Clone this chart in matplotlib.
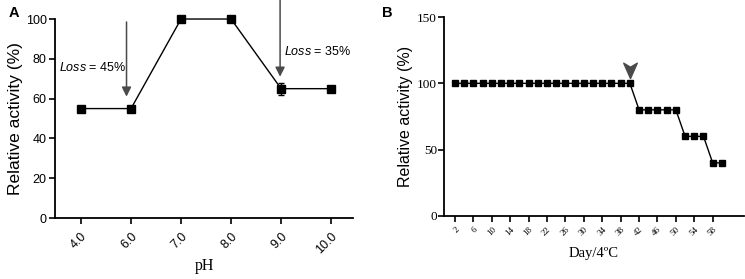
import matplotlib
matplotlib.use("Agg")
import matplotlib.pyplot as plt
from matplotlib.path import Path

plt.rcParams['font.family'] = ['Liberation Sans', 'DejaVu Sans']
plt.rcParams['mathtext.fontset'] = 'custom'
plt.rcParams['mathtext.it'] = 'Liberation Sans:italic'
plt.rcParams['mathtext.rm'] = 'Liberation Sans'

# panel A: pH stability
ph_labels = ['4.0', '6.0', '7.0', '8.0', '9.0', '10.0']
ph_activity = [55, 55, 100, 100, 65, 65]
ph_err = [0, 0.8, 0, 0.8, 3, 0]

# panel B: storage at 4 C
days = [2, 4, 6, 8, 10, 12, 14, 16, 18, 20, 22, 24, 26, 28, 30, 32, 34, 36, 38, 40,
        42, 44, 46, 48, 50, 52, 54, 56, 58, 60]
day_activity = [100] * 20 + [80] * 5 + [60] * 3 + [40] * 2
day_ticks = list(range(2, 59, 4))

serif = ['Liberation Serif', 'DejaVu Serif']
arrow_col = '#4a4a4a'

fig = plt.figure(figsize=(7.45, 2.79), dpi=100)

# ---- panel A
ax1 = fig.add_axes([0.0738, 0.2186, 0.4002, 0.7132])
x1 = list(range(len(ph_labels)))
ax1.errorbar(x1, ph_activity, yerr=ph_err, fmt='-s', color='black', lw=1.0,
             ms=5.5, capsize=2.5, elinewidth=1.0, clip_on=False, zorder=3)
ax1.set_xlim(-0.52, 5.44)
ax1.set_ylim(0, 100)
ax1.set_yticks([0, 20, 40, 60, 80, 100])
ax1.set_xticks(x1)
ax1.set_xticklabels(ph_labels, rotation=45, ha='right', rotation_mode='anchor')
ax1.tick_params(labelsize=9, width=1.2, length=4, pad=2)
ax1.tick_params(axis='x', pad=5)
for s in ['top', 'right']:
    ax1.spines[s].set_visible(False)
for s in ['left', 'bottom']:
    ax1.spines[s].set_linewidth(1.3)
ax1.set_ylabel('Relative activity (%)', fontsize=12.5, labelpad=2)
ax1.set_xlabel('pH', fontsize=11.5, family=serif, labelpad=1)

ax1.annotate('', xy=(0.91, 61), xytext=(0.91, 98.5),
             arrowprops=dict(arrowstyle='-|>', color=arrow_col, lw=1.1,
                             mutation_scale=14, shrinkA=0, shrinkB=0))
ax1.text(-0.43, 75.5, r'$\it{Loss}$ = 45%', fontsize=9, va='center', ha='left')
ax1.annotate('', xy=(3.98, 71), xytext=(3.98, 110),
             arrowprops=dict(arrowstyle='-|>', color=arrow_col, lw=1.1,
                             mutation_scale=14, shrinkA=0, shrinkB=0),
             annotation_clip=False)
ax1.text(4.06, 83.5, r'$\it{Loss}$ = 35%', fontsize=9, va='center', ha='left')

fig.text(0.012, 0.955, 'A', fontsize=10.5, weight='bold', va='center')

# ---- panel B
ax2 = fig.add_axes([0.596, 0.226, 0.402, 0.713])
ax2.plot(days, day_activity, '-s', color='black', lw=1.0, ms=5, clip_on=False, zorder=3)
ax2.set_xlim(-0.4, 64.7)
ax2.set_ylim(0, 150)
ax2.set_yticks([0, 50, 100, 150])
ax2.set_xticks(day_ticks)
ax2.set_xticklabels([str(d) for d in day_ticks], rotation=45, ha='right',
                    rotation_mode='anchor', family=serif, fontsize=6.5)
for lab in ax2.get_yticklabels():
    lab.set_family(serif)
ax2.tick_params(axis='y', labelsize=9.5, width=1.2, length=4, pad=1)
ax2.tick_params(axis='x', width=1.2, length=4, pad=3)
for s in ['top', 'right']:
    ax2.spines[s].set_visible(False)
for s in ['left', 'bottom']:
    ax2.spines[s].set_linewidth(1.3)
ax2.set_ylabel('Relative activity (%)', fontsize=11.5, labelpad=3)
ax2.set_xlabel('Day/4ºC', fontsize=10.5, family=serif, labelpad=7)

# arrowhead marker over day 40
head = Path([(0, -1), (-0.75, 0.7), (0, 0.25), (0.75, 0.7), (0, -1)],
            [Path.MOVETO, Path.LINETO, Path.LINETO, Path.LINETO, Path.CLOSEPOLY])
ax2.plot([40], [111], marker=head, ms=13, color=arrow_col, ls='none', clip_on=False)

fig.text(0.513, 0.955, 'B', fontsize=10.5, weight='bold', va='center')

fig.savefig('out.png', dpi=100)
